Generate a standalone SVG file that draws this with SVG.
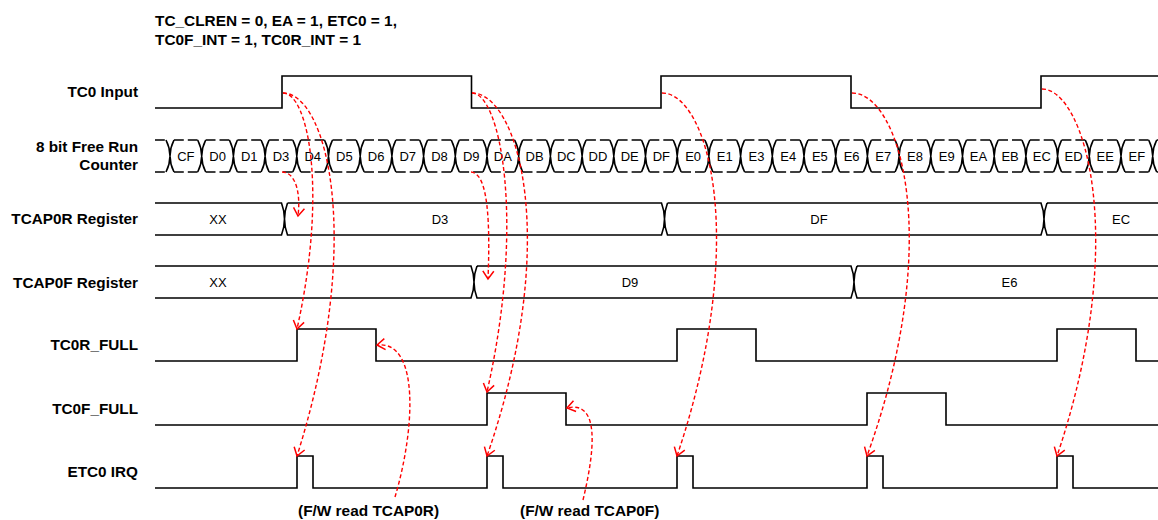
<svg xmlns="http://www.w3.org/2000/svg" xmlns:xlink="http://www.w3.org/1999/xlink" width="1158" height="520" viewBox="0 0 1158 520">
<style>
.sig{fill:none;stroke:#000;stroke-width:1.6}
.dash{fill:none;stroke:#000;stroke-width:1.6;stroke-dasharray:9.8 4}
.arc{fill:none;stroke:#f00;stroke-width:1.4;stroke-dasharray:4 2.5;marker-end:url(#ah)}
.lbl{font-family:"Liberation Sans",Arial,sans-serif;font-weight:bold;font-size:15.3px;fill:#000;text-anchor:end}
.ttl{font-family:"Liberation Sans",Arial,sans-serif;font-weight:bold;font-size:15.4px;fill:#000}
.val{font-family:"Liberation Sans",Arial,sans-serif;font-size:13px;fill:#000;text-anchor:middle}
</style>
<defs>
<marker id="ah" viewBox="-10 -7 12 14" refX="0" refY="0" markerWidth="12" markerHeight="14" markerUnits="userSpaceOnUse" orient="auto">
<path d="M-8,-5.5 L0,0 L-8,5.5" fill="none" stroke="#f00" stroke-width="1.5"/>
</marker>
<g id="cell">
<path class="sig" d="M-4,140 Q4,156 -4,172 M4,140 Q-4,156 4,172"/>
<path class="dash" d="M4,140 h23.7 M4,172 h23.7"/>
</g>
</defs>
<rect width="1158" height="520" fill="#fff"/>

<g id="title">
<text class="ttl" x="155" y="26">TC_CLREN = 0, EA = 1, ETC0 = 1,</text>
<text class="ttl" x="155" y="45">TC0F_INT = 1, TC0R_INT = 1</text>
</g>

<g id="tc0-input">
<text class="lbl" x="138" y="97">TC0 Input</text>
<path class="sig" d="M155,108 H282 V76 H471.5 V108 H661 V76 H851 V108 H1041 V76 H1158"/>
</g>

<g id="counter">
<text class="lbl" x="138" y="152">8 bit Free Run</text>
<text class="lbl" x="138" y="170">Counter</text>
<path class="dash" d="M155,140 H166 M155,172 H166 M1156.7,140 H1158 M1156.7,172 H1158"/>
<use xlink:href="#cell" x="170"/><use xlink:href="#cell" x="201.7"/><use xlink:href="#cell" x="233.4"/><use xlink:href="#cell" x="265.1"/>
<use xlink:href="#cell" x="296.8"/><use xlink:href="#cell" x="328.5"/><use xlink:href="#cell" x="360.2"/><use xlink:href="#cell" x="391.9"/>
<use xlink:href="#cell" x="423.6"/><use xlink:href="#cell" x="455.3"/><use xlink:href="#cell" x="487"/><use xlink:href="#cell" x="518.7"/>
<use xlink:href="#cell" x="550.4"/><use xlink:href="#cell" x="582.1"/><use xlink:href="#cell" x="613.8"/><use xlink:href="#cell" x="645.5"/>
<use xlink:href="#cell" x="677.2"/><use xlink:href="#cell" x="708.9"/><use xlink:href="#cell" x="740.6"/><use xlink:href="#cell" x="772.3"/>
<use xlink:href="#cell" x="804"/><use xlink:href="#cell" x="835.7"/><use xlink:href="#cell" x="867.4"/><use xlink:href="#cell" x="899.1"/>
<use xlink:href="#cell" x="930.8"/><use xlink:href="#cell" x="962.5"/><use xlink:href="#cell" x="994.2"/><use xlink:href="#cell" x="1025.9"/>
<use xlink:href="#cell" x="1057.6"/><use xlink:href="#cell" x="1089.3"/><use xlink:href="#cell" x="1121"/>
<path class="sig" d="M1148.7,140 Q1156.7,156 1148.7,172 M1156.7,140 Q1148.7,156 1156.7,172"/>
<text class="val" y="160.5"><tspan x="185.9">CF</tspan><tspan x="217.6">D0</tspan><tspan x="249.3">D1</tspan><tspan x="281">D3</tspan><tspan x="312.7">D4</tspan><tspan x="344.4">D5</tspan><tspan x="376.1">D6</tspan><tspan x="407.8">D7</tspan><tspan x="439.5">D8</tspan><tspan x="471.2">D9</tspan><tspan x="502.9">DA</tspan><tspan x="534.6">DB</tspan><tspan x="566.3">DC</tspan><tspan x="598">DD</tspan><tspan x="629.7">DE</tspan><tspan x="661.4">DF</tspan><tspan x="693.1">E0</tspan><tspan x="724.8">E1</tspan><tspan x="756.5">E3</tspan><tspan x="788.2">E4</tspan><tspan x="819.9">E5</tspan><tspan x="851.6">E6</tspan><tspan x="883.3">E7</tspan><tspan x="915">E8</tspan><tspan x="946.7">E9</tspan><tspan x="978.4">EA</tspan><tspan x="1010.1">EB</tspan><tspan x="1041.8">EC</tspan><tspan x="1073.5">ED</tspan><tspan x="1105.2">EE</tspan><tspan x="1136.9">EF</tspan></text>
</g>

<g id="tcap0r">
<text class="lbl" x="138" y="224">TCAP0R Register</text>
<path class="sig" d="M155,203 H281.5 Q287.5,219 281.5,235 H155 M287.5,203 Q281.5,219 287.5,235 H661.5 Q667.5,219 661.5,203 H287.5 M667.5,203 Q661.5,219 667.5,235 H1041 Q1047,219 1041,203 H667.5 M1047,203 Q1041,219 1047,235 H1158 M1047,203 H1158"/>
<text class="val" y="223.5"><tspan x="218">XX</tspan><tspan x="440">D3</tspan><tspan x="819">DF</tspan><tspan x="1121">EC</tspan></text>
</g>

<g id="tcap0f">
<text class="lbl" x="138" y="288">TCAP0F Register</text>
<path class="sig" d="M155,266 H471 Q477,282 471,298 H155 M477,266 Q471,282 477,298 H851 Q857,282 851,266 H477 M857,266 Q851,282 857,298 H1158 M857,266 H1158"/>
<text class="val" y="286.5"><tspan x="218">XX</tspan><tspan x="630">D9</tspan><tspan x="1009.5">E6</tspan></text>
</g>

<g id="tc0r-full">
<text class="lbl" x="138" y="350">TC0R_FULL</text>
<path class="sig" d="M155,361 H297 V329 H376 V361 H677 V329 H756 V361 H1057 V329 H1136 V361 H1158"/>
</g>

<g id="tc0f-full">
<text class="lbl" x="138" y="414">TC0F_FULL</text>
<path class="sig" d="M155,425 H487 V393 H566 V425 H867 V393 H946 V425 H1158"/>
</g>

<g id="etc0-irq">
<text class="lbl" x="138" y="477">ETC0 IRQ</text>
<path class="sig" d="M155,488 H297 V456 H313 V488 H487 V456 H503 V488 H677 V456 H693 V488 H867 V456 H883 V488 H1057 V456 H1073 V488 H1158"/>
</g>

<g id="notes">
<text class="ttl" x="298" y="516">(F/W read TCAP0R)</text>
<text class="ttl" x="520" y="516">(F/W read TCAP0F)</text>
</g>

<g id="connectors">
<path class="arc" d="M282,172 C295,172 301,192 298,216"/>
<path class="arc" d="M283,93 C308,93 328,190 297,329"/>
<path class="arc" d="M283,93 C327,93 365,240 297,456"/>
<path class="arc" d="M471,172 C485,173 491,205 488,279"/>
<path class="arc" d="M472,93 C500,93 526,220 487,392"/>
<path class="arc" d="M472,93 C518,93 562,240 487,456"/>
<path class="arc" d="M662,93 C708,93 750,240 677,456"/>
<path class="arc" d="M852,93 C900,93 945,240 867,456"/>
<path class="arc" d="M1042,89 C1085,89 1130,240 1057,456"/>
<path class="arc" d="M395,497 C415,430 420,340 377,345"/>
<path class="arc" d="M583,500 C595,450 600,400 567,408"/>
</g>
</svg>
